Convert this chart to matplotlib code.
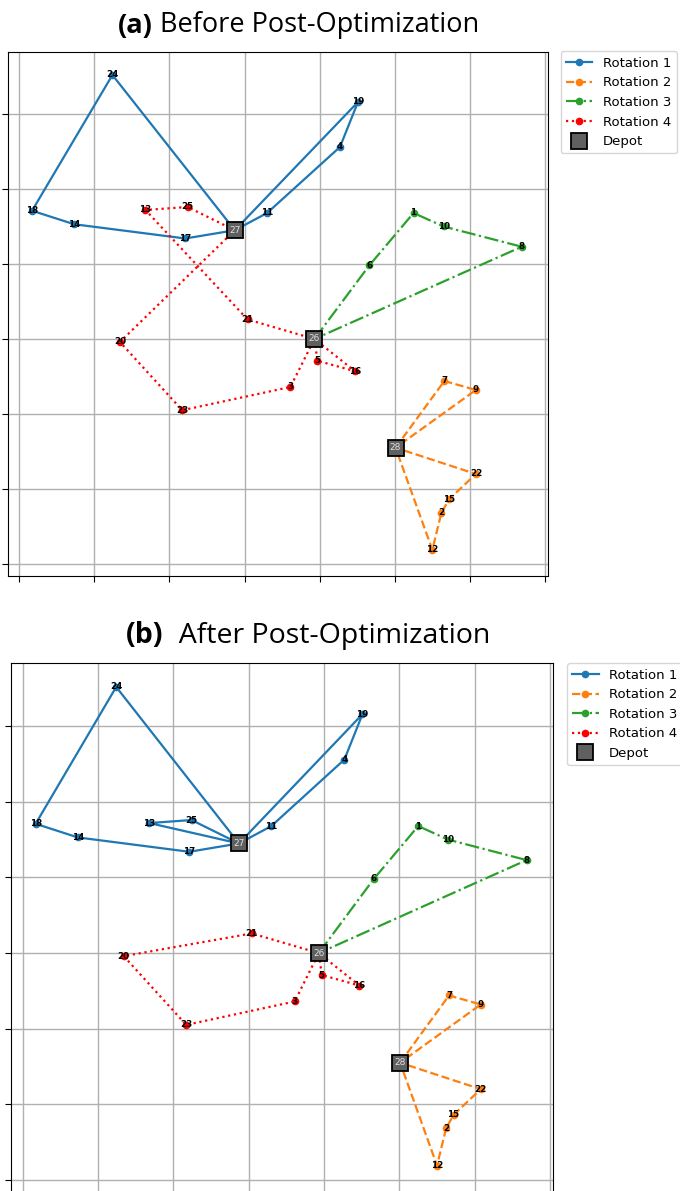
import matplotlib
matplotlib.use("Agg")
import matplotlib.pyplot as plt

# node coordinates (grid units)
node_ids = [1, 2, 3, 4, 5, 6, 7, 8, 9, 10, 11, 12, 13, 14,
            15, 16, 17, 18, 19, 20, 21, 22, 23, 24, 25, 26, 27, 28]
node_x = [5.25, 5.62, 3.61, 4.27, 3.97, 4.66, 5.66, 6.69, 6.08, 5.65, 3.30, 5.50, 1.68, 0.73,
          5.72, 4.47, 2.21, 0.17, 4.51, 1.34, 3.04, 6.08, 2.17, 1.24, 2.24, 3.93, 2.87, 5.01]
node_y = [4.68, 0.68, 2.36, 5.56, 2.71, 3.98, 2.44, 4.23, 2.32, 4.50, 4.68, 0.19, 4.72, 4.53,
          0.86, 2.57, 4.34, 4.71, 6.16, 2.96, 3.26, 1.20, 2.05, 6.52, 4.76, 3.00, 4.45, 1.55]
depots = [26, 27, 28]

rot_names = ["Rotation 1", "Rotation 2", "Rotation 3", "Rotation 4"]
rot_colors = ["#1f77b4", "#ff7f0e", "#2ca02c", "red"]
rot_styles = ["-", "--", "-.", ":"]

routes_before = [
    [27, 24, 18, 14, 17, 27, 19, 4, 11, 27],
    [28, 7, 9, 28, 22, 15, 2, 12, 28],
    [26, 6, 1, 10, 8, 26],
    [27, 25, 13, 21, 26, 16, 5, 26, 3, 23, 20, 27],
]
routes_after = [
    [27, 24, 18, 14, 17, 27, 13, 25, 27, 19, 4, 11, 27],
    [28, 7, 9, 28, 22, 15, 2, 12, 28],
    [26, 6, 1, 10, 8, 26],
    [26, 21, 20, 23, 3, 26, 5, 16, 26],
]

pos = {n: (x, y) for n, x, y in zip(node_ids, node_x, node_y)}

W, H = 680, 1191
fig = plt.figure(figsize=(W / 100, H / 100), dpi=100)


def px_axes(l, t, r, b):
    return fig.add_axes([l / W, 1 - b / H, (r - l) / W, (b - t) / H])


def draw_panel(ax, routes, leg_gap):
    for route, name, c, ls in zip(routes, rot_names, rot_colors, rot_styles):
        xs = [pos[n][0] for n in route]
        ys = [pos[n][1] for n in route]
        ax.plot(xs, ys, color=c, ls=ls, lw=1.6, marker="o", ms=4.5, label=name, zorder=3)
    dx = [pos[n][0] for n in depots]
    dy = [pos[n][1] for n in depots]
    ax.plot(dx, dy, ls="none", marker="s", ms=11.5, mfc="#606060", mec="black",
            mew=1.3, label="Depot", zorder=5)
    for n in node_ids:
        x, y = pos[n]
        if n in depots:
            ax.text(x, y, str(n), fontsize=6.5, color="#e0e0e0", ha="center",
                    va="center", zorder=6)
        else:
            ax.text(x, y, str(n), fontsize=6.3, fontweight="bold", color="black",
                    ha="center", va="center", zorder=6)
    ax.set_xlim(-0.157, 7.04)
    ax.set_ylim(-0.16, 6.833)
    ax.set_xticks(range(8))
    ax.set_yticks(range(7))
    ax.tick_params(labelbottom=False, labelleft=False, length=4)
    ax.grid(True, color="#b0b0b0", lw=1)
    ax.set_axisbelow(True)
    ax.legend(loc="upper left", bbox_to_anchor=(1 + leg_gap, 1.0), borderaxespad=0,
              fontsize=9.5)


ax_a = px_axes(7.5, 51.5, 548, 576)
draw_panel(ax_a, routes_before, 12.7 / 540.5)
ax_b = px_axes(11, 663.3, 553, 1192)
draw_panel(ax_b, routes_after, 14 / 542)


def title(x_px, base_px, tag, rest, size):
    t1 = fig.text(x_px / W, 1 - base_px / H, tag, fontsize=size, fontweight="bold",
                  family="Open Sans", va="baseline", ha="left")
    plt.annotate(rest, xy=(1, 0), xycoords=t1, va="bottom", ha="left",
                 fontsize=size, family="Open Sans", annotation_clip=False)


title(118, 33, "(a)", " Before Post-Optimization", 19.5)
title(126, 643, "(b)", "  After Post-Optimization", 20.5)

fig.savefig("out.png", dpi=100)
